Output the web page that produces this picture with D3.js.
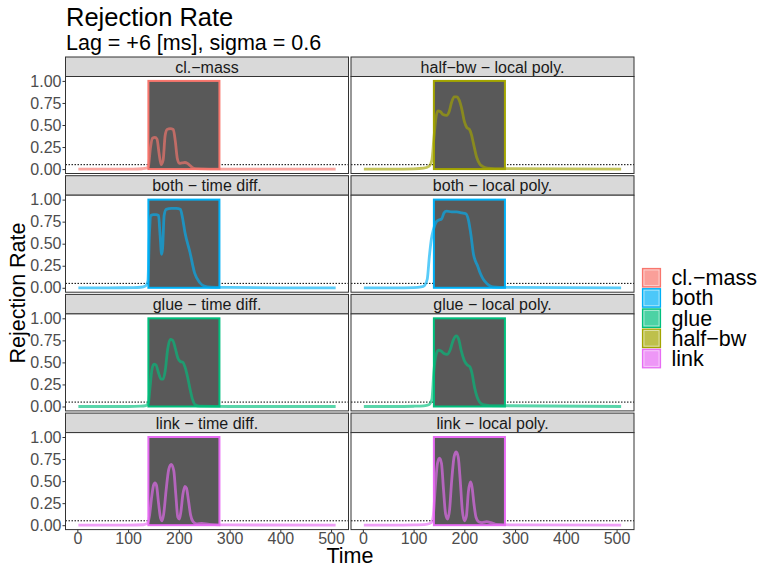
<!DOCTYPE html>
<html>
<head>
<meta charset="utf-8">
<script src="https://cdn.jsdelivr.net/npm/d3@7"></script>
<style>
  body { margin: 0; background: #fff; }
  text { font-family: "Liberation Sans", Arial, sans-serif; }
</style>
</head>
<body>
<svg width="759" height="565"></svg>
<script>
// groups shown in the legend and their colours
var groups = ["cl.\u2212mass", "both", "glue", "half\u2212bw", "link"]
var groupColors = ["#F8766D", "#00B0F6", "#00BF7D", "#A3A500", "#E76BF3"]

// facets, row by row
var panelTitles = [
  "cl.\u2212mass", "half\u2212bw \u2212 local poly.",
  "both \u2212 time diff.", "both \u2212 local poly.",
  "glue \u2212 time diff.", "glue \u2212 local poly.",
  "link \u2212 time diff.", "link \u2212 local poly."
]
var panelGroups = ["cl.\u2212mass", "half\u2212bw", "both", "both", "glue", "glue", "link", "link"]

var onsetWindow = [140, 280]
var alphaLevel = 0.05
var yTicks = [0, 0.25, 0.5, 0.75, 1]
var xTicks = [0, 100, 200, 300, 400, 500]

// [time, rejection rate]
var clMassTd = [[2,0],[60,0],[110,0],[128,0.004],[136,0.01],[140,0.03],[144,0.24],[148,0.35],[153,0.36],[157,0.34],[161,0.18],[165,0.05],[169,0.1],[173,0.38],[177,0.45],[183,0.46],[189,0.45],[193,0.32],[197,0.12],[201,0.065],[206,0.07],[212,0.075],[217,0.065],[222,0.04],[227,0.015],[233,0.005],[260,0],[509,0]]
var halfBwLp = [[2,0],[60,0],[100,0.003],[120,0.01],[130,0.03],[136,0.1],[140,0.35],[144,0.58],[148,0.66],[153,0.65],[158,0.62],[165,0.61],[170,0.65],[175,0.76],[180,0.82],[185,0.82],[190,0.78],[195,0.68],[200,0.54],[205,0.47],[210,0.45],[214,0.39],[218,0.29],[224,0.14],[230,0.06],[236,0.03],[245,0.01],[260,0.005],[509,0]]
var bothTd = [[2,0],[60,0],[110,0.002],[125,0.006],[134,0.02],[139,0.08],[142,0.6],[145,0.82],[150,0.83],[155,0.83],[160,0.82],[163,0.6],[166,0.38],[168,0.45],[171,0.82],[175,0.89],[185,0.9],[195,0.9],[203,0.89],[207,0.8],[212,0.63],[222,0.4],[231,0.17],[241,0.06],[250,0.02],[262,0.008],[300,0.004],[400,0],[509,0]]
var bothLp = [[2,0],[60,0],[100,0.003],[115,0.01],[122,0.03],[127,0.1],[131,0.35],[135,0.55],[139,0.66],[145,0.75],[150,0.77],[155,0.78],[160,0.85],[165,0.87],[175,0.86],[185,0.86],[195,0.85],[203,0.84],[208,0.77],[213,0.6],[218,0.38],[222,0.3],[226,0.25],[231,0.17],[236,0.11],[241,0.07],[248,0.03],[256,0.01],[270,0.005],[509,0]]
var glueTd = [[2,0],[100,0],[125,0.003],[135,0.01],[140,0.04],[143,0.2],[147,0.42],[151,0.48],[155,0.47],[160,0.38],[165,0.31],[169,0.31],[173,0.4],[178,0.65],[183,0.76],[188,0.75],[193,0.66],[198,0.55],[203,0.51],[208,0.5],[212,0.45],[217,0.34],[222,0.2],[227,0.08],[232,0.02],[240,0.005],[300,0],[509,0]]
var glueLp = [[2,0],[60,0],[100,0.003],[120,0.008],[130,0.02],[136,0.08],[140,0.4],[144,0.58],[149,0.64],[154,0.63],[160,0.6],[166,0.59],[172,0.64],[178,0.75],[184,0.8],[189,0.76],[194,0.63],[200,0.52],[206,0.47],[211,0.45],[215,0.38],[220,0.22],[225,0.11],[230,0.05],[237,0.02],[250,0.01],[509,0]]
var linkTd = [[2,0],[100,0],[130,0.005],[138,0.02],[142,0.1],[146,0.3],[150,0.45],[153,0.48],[156,0.45],[160,0.25],[164,0.08],[167,0.05],[170,0.12],[175,0.4],[180,0.63],[185,0.69],[190,0.62],[194,0.35],[198,0.09],[201,0.07],[204,0.15],[208,0.35],[212,0.44],[215,0.42],[219,0.28],[223,0.12],[228,0.04],[235,0.015],[245,0.02],[260,0.01],[300,0.003],[509,0]]
var linkLp = [[2,0],[60,0],[100,0.003],[125,0.01],[135,0.03],[139,0.12],[143,0.45],[147,0.7],[151,0.76],[155,0.7],[159,0.4],[163,0.13],[167,0.07],[171,0.18],[175,0.5],[180,0.78],[184,0.83],[188,0.77],[192,0.5],[196,0.17],[200,0.05],[204,0.1],[208,0.38],[212,0.49],[215,0.44],[219,0.24],[223,0.09],[228,0.04],[235,0.03],[244,0.04],[252,0.03],[262,0.01],[300,0.003],[509,0]]

var panelSeries = [clMassTd, halfBwLp, bothTd, bothLp, glueTd, glueLp, linkTd, linkLp]

var svg = d3.select('svg')
var colorScale = d3.scaleOrdinal().domain(groups).range(groupColors)

// layout
var colX = [65.5, 351]
var panelW = 283
var stripH = 19.5
var panelH = 97
var rowPitch = 118.7
var top0 = 57

// titles
svg.append('text').attr('x', 66).attr('y', 26).attr('font-size', 25.5).attr('fill', '#000').text('Rejection Rate')
svg.append('text').attr('x', 66).attr('y', 50).attr('font-size', 21.5).attr('fill', '#000').text('Lag = +6 [ms], sigma = 0.6')

var allT = d3.merge(panelSeries).map(function(d) { return d[0] })
var tExt = d3.extent(allT)
var tPad = (tExt[1] - tExt[0]) * 0.05

var line = d3.line().curve(d3.curveMonotoneX)

panelSeries.forEach(function(series, i) {
  var col = i % 2
  var row = Math.floor(i / 2)
  var px = colX[col]
  var stripTop = top0 + row * rowPitch
  var pTop = stripTop + stripH
  var color = colorScale(panelGroups[i])

  var x = d3.scaleLinear().domain([tExt[0] - tPad, tExt[1] + tPad]).range([px, px + panelW])
  var y = d3.scaleLinear().domain([-0.05, 1.05]).range([pTop + panelH, pTop])

  var g = svg.append('g')

  // strip
  g.append('rect')
    .attr('x', px).attr('y', stripTop).attr('width', panelW).attr('height', stripH)
    .attr('fill', '#D9D9D9').attr('stroke', '#333333').attr('stroke-width', 1)
  g.append('text')
    .attr('x', px + panelW / 2).attr('y', stripTop + stripH / 2)
    .attr('dy', '0.36em').attr('text-anchor', 'middle')
    .attr('font-size', 16).attr('fill', '#1A1A1A')
    .text(panelTitles[i])

  // panel background
  g.append('rect')
    .attr('x', px).attr('y', pTop).attr('width', panelW).attr('height', panelH)
    .attr('fill', '#fff')

  // 5% line
  g.append('line')
    .attr('x1', px).attr('x2', px + panelW)
    .attr('y1', y(alphaLevel)).attr('y2', y(alphaLevel))
    .attr('stroke', '#000').attr('stroke-width', 1).attr('stroke-dasharray', '1.5,1.5')

  // onset window
  g.append('rect')
    .attr('x', x(onsetWindow[0])).attr('y', y(1))
    .attr('width', x(onsetWindow[1]) - x(onsetWindow[0]))
    .attr('height', y(0) - y(1))
    .attr('fill', '#595959').attr('stroke', color).attr('stroke-width', 2)

  // rejection rate
  g.append('path')
    .attr('d', line(series.map(function(d) { return [x(d[0]), y(d[1])] })))
    .attr('fill', 'none').attr('stroke', color).attr('stroke-opacity', 0.65)
    .attr('stroke-width', 2.8).attr('stroke-linejoin', 'round').attr('stroke-linecap', 'butt')

  // panel border
  g.append('rect')
    .attr('x', px).attr('y', pTop).attr('width', panelW).attr('height', panelH)
    .attr('fill', 'none').attr('stroke', '#333333').attr('stroke-width', 1)

  if (col === 0) {
    var ya = g.append('g').attr('transform', 'translate(' + px + ',0)')
      .call(d3.axisLeft(y).tickValues(yTicks).tickFormat(d3.format('.2f')).tickSize(3).tickPadding(1))
    ya.select('.domain').remove()
    ya.selectAll('line').attr('stroke', '#333333')
    ya.selectAll('text').attr('font-size', 16).attr('fill', '#4D4D4D').attr('font-family', null)
  }
  if (row === 3) {
    var xa = g.append('g').attr('transform', 'translate(0,' + (pTop + panelH) + ')')
      .call(d3.axisBottom(x).tickValues(xTicks).tickSize(3).tickPadding(0))
    xa.select('.domain').remove()
    xa.selectAll('line').attr('stroke', '#333333')
    xa.selectAll('text').attr('font-size', 16).attr('fill', '#4D4D4D').attr('font-family', null)
  }
})

// axis titles
svg.append('text').attr('x', 350).attr('y', 563).attr('text-anchor', 'middle')
  .attr('font-size', 21.5).attr('fill', '#000').text('Time')
svg.append('text').attr('transform', 'translate(25,293) rotate(-90)').attr('text-anchor', 'middle')
  .attr('font-size', 21.5).attr('fill', '#000').text('Rejection Rate')

// legend
var legend = svg.append('g').attr('transform', 'translate(642,268)')
groups.forEach(function(name, k) {
  var ky = k * 20.2
  legend.append('rect')
    .attr('x', 0.5).attr('y', ky + 0.5).attr('width', 18).attr('height', 18.5)
    .attr('fill', colorScale(name)).attr('fill-opacity', 0.7)
    .attr('stroke', colorScale(name)).attr('stroke-width', 1.2)
  legend.append('rect')
    .attr('x', 2).attr('y', ky + 2).attr('width', 15).attr('height', 15.5)
    .attr('fill', 'none').attr('stroke', '#fff').attr('stroke-opacity', 0.6).attr('stroke-width', 0.8)
  legend.append('text')
    .attr('x', 29.5).attr('y', ky + 9.7).attr('dy', '0.35em')
    .attr('font-size', 21.5).attr('fill', '#000').text(name)
})
</script>
</body>
</html>
